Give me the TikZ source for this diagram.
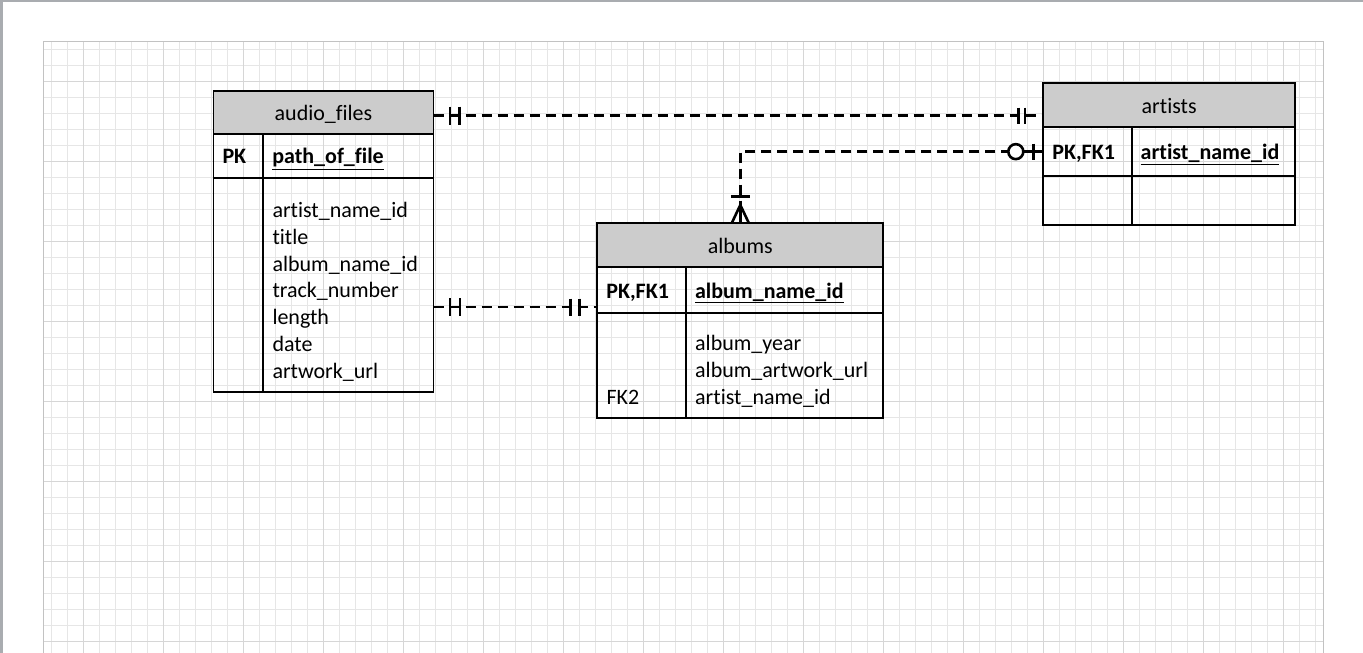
\documentclass[tikz,border=0pt]{standalone}
\usepackage{fontspec}
\setmainfont{Carlito}[Ligatures=NoCommon]
\definecolor{hdr}{HTML}{CCCCCC}
\definecolor{chrome}{HTML}{A9ACB0}
\definecolor{minorgrid}{HTML}{E6E6E6}
\definecolor{majorgrid}{HTML}{D6D6D6}
\definecolor{pageedge}{HTML}{C2C2C2}

\begin{document}
\begin{tikzpicture}[x=1pt, y=-1pt, font=\fontsize{22pt}{26.67pt}\selectfont]
\tikzstyle{tcell}=[draw, line width=1.8pt, anchor=north west, outer sep=0pt, inner xsep=9pt, inner ysep=0pt, align=left, text height=17pt, text depth=1pt]
\tikzstyle{thead}=[tcell, fill=hdr]
\tikzstyle{attrs}=[anchor=base west, inner sep=0pt, align=left]
\tikzstyle{rel}=[line width=2.6pt, dash pattern=on 10pt off 6pt]
\tikzstyle{erm}=[line width=2.6pt]

% page and grid
\useasboundingbox (0,0) rectangle (1363,653);
\fill[white] (0,0) rectangle (1363,653);
\fill[chrome] (0,0) rectangle (1363,2);
\fill[chrome] (0,0) rectangle (3,653);
\begin{scope}[shift={(3.3,1.3)}]
\draw[minorgrid, line width=1pt, step=16pt] (40,651.7) grid (1320,40);
\draw[majorgrid, line width=1pt, step=80pt] (40,651.7) grid (1320,40);
\end{scope}
\draw[pageedge, line width=1.2pt] (43.3,653) -- (43.3,41.3) -- (1323.3,41.3) -- (1323.3,653);

% audio_files
\node[thead, minimum width=220pt, minimum height=43.3pt] (af-h) at (213.5,90.7) {audio\_files};
\node[tcell, text width=31.8pt, minimum height=43.7pt] (af-k) at (213.5,134) {\textbf{PK}};
\node[tcell, text width=152.2pt, minimum height=43.7pt] (af-n) at (263.3,134) {\textbf{\underline{path\_of\_file}}};
\node[tcell, text width=31.8pt, minimum height=214.3pt] (af-k2) at (213.5,177.7) {};
\node[tcell, text width=152.2pt, minimum height=214.3pt] (af-a) at (263.3,177.7) {};
\node[attrs] (af-list) at (272.3,378) {artist\_name\_id\\title\\album\_name\_id\\track\_number\\length\\date\\artwork\_url};

% albums
\node[thead, minimum width=286pt, minimum height=44.3pt] (al-h) at (597.3,223) {albums};
\node[tcell, text width=70.7pt, minimum height=45.4pt] (al-k) at (597.3,267.3) {\textbf{PK,FK1}};
\node[tcell, text width=179.3pt, minimum height=45.4pt] (al-n) at (686,267.3) {\textbf{\underline{album\_name\_id}}};
\node[tcell, text width=70.7pt, minimum height=105pt] (al-k2) at (597.3,312.7) {};
\node[tcell, text width=179.3pt, minimum height=105pt] (al-a) at (686,312.7) {};
\node[attrs] (al-list) at (695,404.3) {album\_year\\album\_artwork\_url\\artist\_name\_id};
\node[attrs] (al-fk) at (606.3,404.3) {FK2};

% artists
\node[thead, minimum width=251.7pt, minimum height=44pt] (ar-h) at (1043.3,83.3) {artists};
\node[tcell, text width=70.4pt, minimum height=48.7pt] (ar-k) at (1043.3,127.3) {\textbf{PK,FK1}};
\node[tcell, text width=145.3pt, minimum height=48.7pt] (ar-n) at (1131.7,127.3) {\textbf{\underline{artist\_name\_id}}};
\node[tcell, text width=70.4pt, minimum height=49pt] (ar-k2) at (1043.3,176) {};
\node[tcell, text width=145.3pt, minimum height=49pt] (ar-a) at (1131.7,176) {};

% audio_files -- artists
\coordinate (c1a) at ([yshift=-3.2pt]af-h.east);
\coordinate (c1b) at (c1a -| ar-h.west);
\draw[rel] (c1a) -- (c1b);
\draw[erm] ([xshift=16.5pt]c1a) ++(0,-9) -- ++(0,18);
\draw[erm] ([xshift=26pt]c1a) ++(0,-9) -- ++(0,18);
\draw[erm] ([xshift=-25pt]c1b) ++(0,-8) -- ++(0,16);
\draw[erm] ([xshift=-18.5pt]c1b) ++(0,-8) -- ++(0,16);

% audio_files -- albums
\coordinate (c2b) at ([yshift=5.7pt]al-k.south west);
\coordinate (c2a) at (c2b -| af-a.east);
\draw[rel] (c2a) -- (c2b);
\draw[erm] ([xshift=16.5pt]c2a) ++(0,-9) -- ++(0,18);
\draw[erm] ([xshift=26.5pt]c2a) ++(0,-9) -- ++(0,18);
\draw[erm] ([xshift=-27pt]c2b) ++(0,-8.5) -- ++(0,17);
\draw[erm] ([xshift=-17.6pt]c2b) ++(0,-8.5) -- ++(0,17);

% artists -- albums
\draw[rel] (ar-k.west) -| (al-h.north);
\draw[erm] ([xshift=-20pt]ar-k.west) -- (ar-k.west);
\draw[erm, fill=white] ([xshift=-27.5pt]ar-k.west) circle (7.5pt);
\draw[erm] ([xshift=-10pt]ar-k.west) ++(0,-8) -- ++(0,16);
\draw[erm] ([xshift=-8.5pt]al-h.north) -- ([yshift=18pt]al-h.north) -- ([xshift=8.5pt]al-h.north);
\draw[erm] ([yshift=18pt]al-h.north) -- (al-h.north);
\draw[erm] ([yshift=26.3pt]al-h.north) ++(-9.5,0) -- ++(19,0);
\end{tikzpicture}
\end{document}
